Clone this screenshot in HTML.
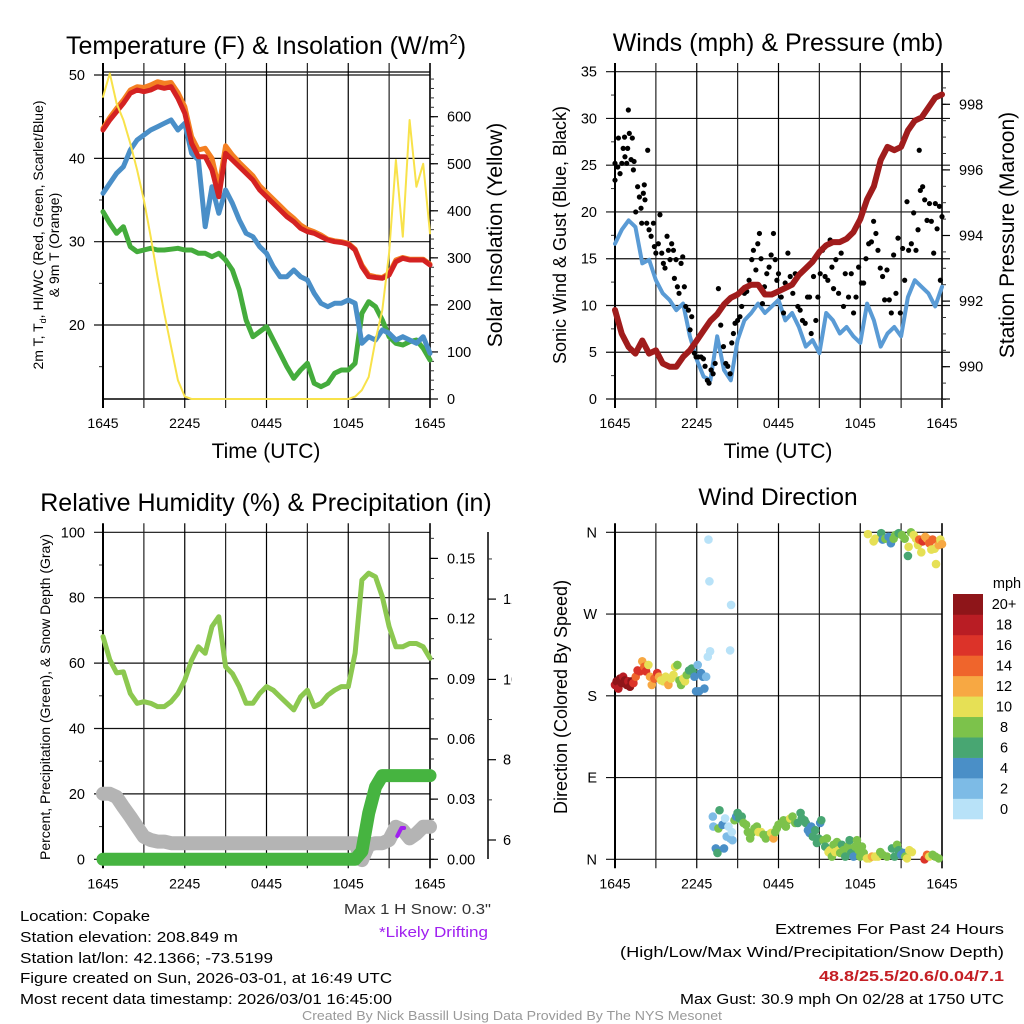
<!DOCTYPE html>
<html><head><meta charset="utf-8">
<style>
html,body{margin:0;padding:0;background:#fff;}
svg{display:block;font-family:"Liberation Sans",sans-serif;}
</style></head>
<body>
<svg id="chart" width="1024" height="1024" viewBox="0 0 1024 1024" xmlns="http://www.w3.org/2000/svg">
<defs><clipPath id="clipRight"><rect x="0" y="0" width="512" height="1024"/></clipPath></defs>
<rect x="0" y="0" width="1024" height="1024" fill="#fff"/>
<g id="layer"></g>
<!-- titles -->
<text x="266" y="54" font-size="25" text-anchor="middle">Temperature (F) &amp; Insolation (W/m<tspan font-size="15" dy="-10">2</tspan><tspan dy="10">)</tspan></text>
<text x="778" y="51" font-size="25" text-anchor="middle">Winds (mph) &amp; Pressure (mb)</text>
<text x="266" y="511" font-size="25" text-anchor="middle">Relative Humidity (%) &amp; Precipitation (in)</text>
<text x="778" y="505" font-size="24.5" text-anchor="middle">Wind Direction</text>
<!-- axis titles -->
<text x="266" y="458" font-size="21" text-anchor="middle">Time (UTC)</text>
<text x="778" y="458" font-size="21" text-anchor="middle">Time (UTC)</text>
<text transform="translate(43,235) rotate(-90)" font-size="14" text-anchor="middle">2m T, T<tspan font-size="9" dy="3">d</tspan><tspan dy="-3">, HI/WC (Red, Green, Scarlet/Blue)</tspan></text>
<text transform="translate(59,245) rotate(-90)" font-size="14" text-anchor="middle">&amp; 9m T (Orange)</text>
<text transform="translate(502,235) rotate(-90)" font-size="21" text-anchor="middle">Solar Insolation (Yellow)</text>
<text transform="translate(566,235) rotate(-90)" font-size="18" text-anchor="middle">Sonic Wind &amp; Gust (Blue, Black)</text>
<text transform="translate(1014,235) rotate(-90)" font-size="21" text-anchor="middle">Station Pressure (Maroon)</text>
<text transform="translate(50,697) rotate(-90)" font-size="14" text-anchor="middle">Percent, Precipitation (Green), &amp; Snow Depth (Gray)</text>
<text transform="translate(567,697) rotate(-90)" font-size="18" text-anchor="middle">Direction (Colored By Speed)</text>
<!-- footer -->
<g font-size="14.5">
<text x="20" y="921" textLength="130" lengthAdjust="spacingAndGlyphs">Location: Copake</text>
<text x="20" y="942" textLength="218" lengthAdjust="spacingAndGlyphs">Station elevation: 208.849 m</text>
<text x="20" y="963" textLength="253" lengthAdjust="spacingAndGlyphs">Station lat/lon: 42.1366; -73.5199</text>
<text x="20" y="983" textLength="372" lengthAdjust="spacingAndGlyphs">Figure created on Sun, 2026-03-01, at 16:49 UTC</text>
<text x="20" y="1004" textLength="372" lengthAdjust="spacingAndGlyphs">Most recent data timestamp: 2026/03/01 16:45:00</text>
<text x="344" y="914" fill="#333" textLength="147" lengthAdjust="spacingAndGlyphs">Max 1 H Snow: 0.3"</text>
<text x="379" y="937" fill="#a020f0" textLength="109" lengthAdjust="spacingAndGlyphs">*Likely Drifting</text>
<text x="775" y="934" textLength="229" lengthAdjust="spacingAndGlyphs">Extremes For Past 24 Hours</text>
<text x="620" y="957" textLength="384" lengthAdjust="spacingAndGlyphs">(High/Low/Max Wind/Precipitation/Snow Depth)</text>
<text x="819" y="981" fill="#c41e24" font-weight="bold" textLength="185" lengthAdjust="spacingAndGlyphs">48.8/25.5/20.6/0.04/7.1</text>
<text x="680" y="1004" textLength="324" lengthAdjust="spacingAndGlyphs">Max Gust: 30.9 mph On 02/28 at 1750 UTC</text>
<text x="302" y="1020" fill="#999" font-size="12.5" textLength="420" lengthAdjust="spacingAndGlyphs">Created By Nick Bassill Using Data Provided By The NYS Mesonet</text>
</g>
</svg>
<script>
// ---------- DATA ----------
const hours = [0,0.5,1,1.5,2,2.5,3,3.5,4,4.5,5,5.5,6,6.5,7,7.5,8,8.5,9,9.5,10,10.5,11,11.5,12,12.5,13,13.5,14,14.5,15,15.5,16,16.5,17,17.5,18,18.5,19,19.5,20,20.5,21,21.5,22,22.5,23,23.5,24];
const timeTickLabels = ["1645","2245","0445","1045","1645"];
const tempTicks = [20,30,40,50];
const insolTicks = [0,100,200,300,400,500,600];
const windTicks = [0,5,10,15,20,25,30,35];
const pressTicks = [990,992,994,996,998];
const rhTicks = [0,20,40,60,80,100];
const precipTicks = [0,0.03,0.06,0.09,0.12,0.15];
const precipTickLabels = ["0.00","0.03","0.06","0.09","0.12","0.15"];
const snowTicks = [6,8,10,12];
const dirTicks = [0,90,180,270,360];
const dirTickLabels = ["N","E","S","W","N"];
const speedBinLabels = ["0","2","4","6","8","10","12","14","16","18","20+"];
const speedBinColors = ["#b8e2f8","#7dbbe6","#4a8fc7","#48a672","#7cc24b","#e6e055","#f7a843","#ef652c","#dc3329","#b91d24","#8e1519"];

const tempRed = [43.4,44.6,45.6,46.6,47.8,48.2,48.0,48.2,48.6,48.4,48.6,47.2,45.4,41.8,40.2,40.2,38.6,35.4,40.6,39.8,39.0,38.2,37.4,36.2,35.4,34.6,33.8,33.0,32.4,31.6,31.2,31.0,30.6,30.2,30.0,29.9,29.7,29.0,27.0,25.8,25.7,25.6,26.0,27.6,28.0,27.8,27.8,27.8,27.2];
const temp9mOrange = [43.6,44.9,46.0,47.0,48.2,48.6,48.5,48.8,49.2,49.0,49.1,47.9,46.2,42.6,41.0,41.2,40.0,36.5,41.5,40.4,39.5,38.7,37.9,36.7,35.9,35.1,34.3,33.5,32.8,32.0,31.5,31.2,30.8,30.3,30.1,30.0,29.8,29.1,27.2,26.0,25.8,25.7,26.2,27.8,28.1,27.9,27.9,27.9,27.3];
const windChillBlue = [35.8,37.0,38.2,39.0,41.0,42.2,42.8,43.4,43.8,44.2,44.6,43.4,44.2,40.6,39.8,31.8,36.6,33.4,36.2,34.6,32.6,31.0,30.6,29.4,28.6,27.0,25.8,25.8,26.6,25.8,25.4,23.8,22.6,22.2,22.6,22.6,23.0,22.6,17.8,18.6,18.2,19.4,19.0,18.2,18.6,18.2,17.8,18.6,16.6];
const dewpointGreen = [33.6,32.2,31.0,31.8,29.4,28.8,29.0,29.2,29.0,29.0,29.1,29.2,29.0,29.0,28.6,28.6,28.2,28.6,27.8,26.6,24.2,20.6,18.6,19.2,19.8,18.2,16.6,15.0,13.6,14.6,15.4,13.0,12.6,13.0,14.2,14.6,14.6,15.4,21.4,22.8,22.2,20.6,18.6,17.8,17.6,18.0,18.2,17.2,15.8];
const insolation = [642,692,628,593,543,487,423,345,260,182,111,40,5,0,0,0,0,0,0,0,0,0,0,0,0,0,0,0,0,0,0,0,0,0,0,0,0,5,19,47,125,189,310,508,345,593,451,500,352];

const windSpeed = [16.6,18.1,19.1,18.4,14.5,14.9,12.7,11.3,10.6,9.5,10.2,6.7,4.2,2.4,2.0,6.7,3.1,2.0,6.3,8.4,9.2,10.2,9.2,9.9,10.6,8.4,9.2,7.7,5.6,6.3,4.9,9.2,8.4,7.0,7.7,6.7,6.0,10.2,8.4,5.6,7.0,7.7,6.7,10.9,12.7,12.0,11.3,9.9,12.0];
const pressure = [991.73,991.0,990.6,990.4,990.8,990.4,990.5,990.1,990.0,990.0,990.3,990.5,990.8,991.1,991.4,991.6,991.9,992.1,992.2,992.4,992.5,992.5,992.2,992.2,992.3,992.4,992.5,992.8,993.0,993.2,993.5,993.7,993.8,993.8,993.9,994.1,994.5,995.1,995.5,996.3,996.7,996.6,996.7,997.2,997.5,997.6,997.9,998.2,998.3];
const gustTimes = [0,0,0.2,0.25,0.37,0.5,0.6,0.7,0.73,0.86,0.93,0.98,1.05,1.18,1.27,1.35,1.4,1.52,1.66,1.79,1.91,1.96,2.08,2.15,2.2,2.33,2.4,2.5,2.65,2.82,2.89,3.0,3.18,3.3,3.43,3.55,3.67,3.82,3.92,4.04,4.16,4.29,4.36,4.48,4.58,4.7,4.85,4.97,5.09,5.19,5.39,5.51,5.63,5.83,5.95,6.12,6.32,6.49,6.61,6.78,6.9,7.05,7.2,7.35,7.59,7.76,7.96,8.13,8.28,8.45,8.57,8.69,8.81,9.0,9.17,9.3,9.5,9.67,9.84,10.04,10.16,10.34,10.48,10.6,10.72,10.82,10.97,11.14,11.31,11.46,11.63,11.76,11.88,12.0,12.2,12.37,12.49,12.69,12.86,13.05,13.23,13.42,13.59,13.76,13.96,14.13,14.28,14.4,14.57,14.74,14.89,15.06,15.23,15.42,15.62,15.79,15.92,16.04,16.21,16.41,16.6,16.77,16.9,17.14,17.34,17.51,17.69,17.88,18.08,18.25,18.42,18.62,18.82,18.98,19.15,19.3,19.47,19.64,19.79,19.96,20.13,20.28,20.45,20.62,20.77,20.94,21.11,21.26,21.43,21.55,21.75,21.92,22.09,22.24,22.33,22.41,22.58,22.73,22.9,23.08,23.22,23.39,23.51,23.64,23.81,23.88,24];
const gustSpeeds = [25.2,23.4,24.8,27.9,24.1,25.2,26.8,28.0,25.9,25.2,26.8,30.9,28.4,25.6,27.9,24.5,25.4,20.0,22.7,21.6,20.4,18.8,22.0,22.9,21.3,18.8,26.6,18.1,17.4,18.8,16.3,15.6,16.6,19.7,15.6,14.5,14.0,17.4,15.9,14.9,16.6,15.9,12.9,14.9,12.0,11.3,14.5,15.2,12.0,9.9,9.5,7.4,8.8,4.9,4.5,4.5,4.5,4.3,3.5,2.0,1.7,3.1,2.7,3.8,11.8,7.9,5.6,3.8,3.5,2.7,6.0,7.0,8.1,8.4,8.8,9.9,11.3,11.5,12.7,14.9,15.9,13.8,16.6,17.7,15.0,10.2,12.0,13.4,14.1,15.4,17.7,14.9,12.7,13.4,10.9,9.2,12.4,15.6,13.1,11.3,13.4,9.9,9.5,8.4,8.1,10.9,10.9,7.0,13.1,8.4,10.9,13.4,15.9,13.1,12.7,17.0,14.1,11.8,14.9,11.3,15.6,9.9,13.4,10.9,13.4,9.2,10.9,14.1,12.4,12.4,15.0,16.6,16.8,19.0,17.7,15.9,14.0,13.1,10.6,13.8,10.6,9.2,15.4,11.3,17.2,9.2,16.1,12.7,21.1,15.9,16.6,19.9,15.9,18.1,26.6,22.3,22.7,21.3,19.1,20.9,19.0,15.6,20.9,18.2,20.6,12.7,19.5];

const relHumidity = [68.1,61.0,57.0,57.3,50.7,47.7,48.2,47.7,46.7,46.7,48.2,50.7,54.8,60.9,65.0,63.0,71.2,74.2,58.9,56.8,52.8,47.7,47.7,50.7,52.8,51.7,49.7,47.7,45.7,49.7,51.7,46.7,47.7,50.2,51.7,52.8,52.8,63.0,85.4,87.5,86.4,80.3,71.2,65.0,65.0,66.0,66.0,65.0,61.5];
const precipAccum = [0,0,0,0,0,0,0,0,0,0,0,0,0,0,0,0,0,0,0,0,0,0,0,0,0,0,0,0,0,0,0,0,0,0,0,0,0,0,0.004,0.023,0.036,0.0417,0.0417,0.0417,0.0417,0.0417,0.0417,0.0417,0.0417];
const snowDepth = [7.15,7.15,7.07,6.82,6.58,6.33,6.08,6.0,5.96,5.96,5.92,5.92,5.92,5.92,5.92,5.92,5.92,5.92,5.92,5.92,5.92,5.92,5.92,5.92,5.92,5.92,5.92,5.92,5.92,5.92,5.92,5.92,5.92,5.92,5.92,5.92,5.92,5.92,5.5,5.88,5.92,5.92,6.0,6.33,6.25,6.04,6.16,6.33,6.33];
const driftTimes = [21.6,21.75,21.9,22.1];
const driftDepth = [6.1,6.2,6.3,6.3];

const dirTimes = [0,0.12,0.25,0.37,0.5,0.6,0.73,0.86,0.98,1.1,1.22,1.35,1.52,1.66,1.84,2.0,2.15,2.28,2.45,2.57,2.7,2.89,3.1,3.23,3.38,3.55,3.72,3.92,4.11,4.29,4.41,4.58,4.73,4.85,5.02,5.14,5.27,5.44,5.63,5.7,5.83,5.95,6.07,6.17,6.32,6.44,6.56,6.69,6.81,6.98,6.86,6.93,8.45,8.52,
7.18,7.22,7.4,7.52,7.67,7.59,7.89,8.0,8.08,8.2,8.33,8.45,8.62,8.57,8.77,8.89,9.0,9.13,9.3,9.43,9.62,9.75,9.92,10.04,10.24,10.41,10.53,10.72,10.9,11.07,11.27,11.46,11.63,11.76,11.88,12.0,12.2,12.37,12.54,12.69,12.86,13.03,13.23,13.42,13.62,13.71,13.91,14.0,14.16,14.28,14.4,14.52,14.7,14.82,14.94,15.06,15.14,15.31,15.43,15.55,15.67,15.79,15.92,16.04,16.16,16.29,16.41,16.53,16.65,16.77,16.9,17.09,17.22,17.34,17.51,17.63,17.76,17.88,18.0,18.12,18.25,18.49,18.66,18.86,19.1,19.3,19.47,19.64,19.96,20.33,20.52,20.7,20.82,21.01,21.18,21.31,21.43,21.6,21.79,22.72,22.9,23.07,23.31,23.51,23.76,
18.56,18.98,19.1,19.54,19.64,19.84,20.08,20.25,20.45,20.57,20.82,21.06,21.26,21.5,21.55,21.72,21.92,22.09,22.24,22.33,22.48,22.58,22.77,22.9,23.07,23.22,23.31,23.46,23.56,23.76,23.88,24.0];
const dirDegrees = [192,196,188,199,194,201,197,192,196,190,196,194,201,208,207,218,212,207,214,201,192,199,205,201,197,196,201,192,199,203,212,214,197,192,199,196,203,208,210,207,201,185,214,185,205,201,188,201,223,229,352,306,230,280,
47,36,12,7,54,34,38,12,45,25,36,23,21,30,43,47,51,45,47,40,38,30,23,29,34,36,30,30,27,23,27,29,23,30,34,38,40,43,36,43,45,47,40,40,51,45,43,40,32,29,36,25,32,18,23,40,43,21,14,23,8,10,3,16,8,19,10,7,16,10,3,14,21,7,3,14,21,10,3,14,7,1,1,3,3,3,8,5,3,12,3,16,10,5,7,3,1,10,8,0,5,3,5,3,1,
358,350,353,359,352,353,355,348,353,357,359,357,353,334,344,360,357,353,346,352,338,350,355,353,348,341,352,342,325,346,352,347];
const dirSpeeds = [18,20,18,20,20,18,20,20,18,20,20,16,14,16,16,12,14,16,10,12,12,14,16,12,10,10,10,12,10,10,10,8,8,8,10,10,8,6,6,6,4,4,2,4,4,4,4,2,0,0,0,0,0,0,
2,2,4,6,6,8,4,4,0,2,0,2,2,0,8,4,6,6,6,8,8,8,8,8,8,8,10,10,8,8,8,10,12,8,8,8,8,8,8,8,10,8,8,6,6,6,6,6,4,4,4,6,6,6,6,4,6,8,6,8,10,10,8,8,10,8,10,8,6,8,6,8,6,6,4,8,8,8,8,8,8,10,10,12,10,10,8,8,8,6,6,8,6,4,4,8,10,10,10,16,14,10,8,8,8,
10,10,10,6,4,8,4,4,8,8,6,8,8,6,10,8,10,10,10,14,10,16,12,12,14,10,14,10,10,12,10,12];

// ---------- HELPERS ----------
const NS = "http://www.w3.org/2000/svg";
const layer = document.getElementById('layer');
function mk(tag, attrs, parent) {
  const e = document.createElementNS(NS, tag);
  for (const k in attrs) e.setAttribute(k, attrs[k]);
  (parent || layer).appendChild(e);
  return e;
}
function txt(s, attrs, parent) { const e = mk('text', attrs, parent); e.textContent = s; return e; }
const PX = 327/24;
function xScale(x0) { return t => x0 + t * PX; }
function pts(xs, ys, fx, fy) { return xs.map((t, i) => fx(t).toFixed(1) + ',' + fy(ys[i]).toFixed(1)).join(' '); }

function timeFrame(x0, top, bottom, name) {
  const fx = xScale(x0);
  const g = mk('g', {});
  
  
  for (let h = 0; h <= 24; h += 3) {
    const ln = mk('line', {x1: fx(h), x2: fx(h), y1: top - 9, y2: bottom + 9, stroke: (h % 6 === 0) ? '#000' : '#222', 'stroke-width': (h === 0 ? 2 : 1.2)}, g);
    
    
  }
  for (let i = 0; i < timeTickLabels.length; i++) {
    const lb = txt(timeTickLabels[i], {x: fx(i * 6), y: bottom + 29, 'font-size': 14, 'text-anchor': 'middle'}, g);
    
    
  }
  const r = mk('line', {x1: x0 + 327, x2: x0 + 327, y1: top - 9, y2: bottom + 9, stroke: '#000', 'stroke-width': 1.5}, g);
  
  
  return fx;
}
function hGrid(x0, ys, labels, fy, name, extendRight) {
  const g = mk('g', {});
  
  
  ys.forEach((v, i) => {
    const y = fy(v);
    const ln = mk('line', {x1: x0 - 9, x2: x0 + 327 + (extendRight ? 8 : 0), y1: y, y2: y, stroke: '#111', 'stroke-width': 1.2}, g);
    
    
    const lb = txt(labels[i], {x: x0 - 18, y: y + 5, 'font-size': 14.5, 'text-anchor': 'end'}, g);
    
    
  });
}
function rightAxis(xr, vals, labels, fy, name, minorVals) {
  const g = mk('g', {});
  
  
  (minorVals || []).forEach(v => {
    const m = mk('line', {x1: xr, x2: xr + 4, y1: fy(v), y2: fy(v), stroke: '#333', 'stroke-width': 1}, g);
    
    
  });
  vals.forEach((v, i) => {
    const t = mk('line', {x1: xr, x2: xr + 8, y1: fy(v), y2: fy(v), stroke: '#000', 'stroke-width': 1.2}, g);
    
    
    const lb = txt(labels[i], {x: xr + 17, y: fy(v) + 5, 'font-size': 14.5}, g);
    
    
  });
}
function leftMinor(x0, vals, fy) {
  vals.forEach(v => {
    const m = mk('line', {x1: x0 - 4, x2: x0, y1: fy(v), y2: fy(v), stroke: '#333', 'stroke-width': 1});
    
    
  });
}
function line(xs, ys, fx, fy, color, w, name) {
  const p = mk('polyline', {points: pts(xs, ys, fx, fy), fill: 'none', stroke: color, 'stroke-width': w, 'stroke-linejoin': 'round', 'stroke-linecap': 'round'});
  
  
  return p;
}

// ---------- PANEL 1: Temperature ----------
const yT = v => 325 - (v - 20) * 8.333;
const yI = v => 399 - v * 0.4705;
hGrid(103, tempTicks, tempTicks.map(String), yT, 'temperature-y-axis', false);
leftMinor(103, [15, 25, 35, 45], yT);
const topLine = mk('line', {x1: 103, x2: 430, y1: 72, y2: 72, stroke: '#000', 'stroke-width': 1.2});


const botLine = mk('line', {x1: 103, x2: 430, y1: 399, y2: 399, stroke: '#000', 'stroke-width': 1.5});


const fx1 = timeFrame(103, 72, 399, 'temperature');
const insMinor = []; for (let v = 0; v <= 680; v += 20) insMinor.push(v);
rightAxis(430, insolTicks, insolTicks.map(String), yI, 'insolation-y-axis', insMinor);
line(hours, dewpointGreen, fx1, yT, '#44ac3c', 5, 'dewpoint-line');
line(hours, windChillBlue, fx1, yT, '#4a8fc8', 5, 'wind-chill-line');
line(hours, temp9mOrange, fx1, yT, '#f47f22', 5, 'temp-9m-line');
line(hours, tempRed, fx1, yT, '#d42222', 5, 'temp-2m-line');
line(hours, insolation, fx1, yI, '#f8e24a', 2, 'insolation-line');

// ---------- PANEL 2: Winds ----------
const yW = v => 399 - v * 9.352;
const yP = p => 366.7 - (p - 990) * 32.8;
hGrid(615, windTicks, windTicks.map(String), yW, 'wind-y-axis', true);
leftMinor(615, [2.5, 7.5, 12.5, 17.5, 22.5, 27.5, 32.5], yW);
const fx2 = timeFrame(615, 72, 399, 'wind');
const pMinor = []; for (let p = 989; p <= 998.5; p += 0.5) pMinor.push(p);
rightAxis(942, pressTicks, pressTicks.map(String), yP, 'pressure-y-axis', pMinor);
line(hours, windSpeed, fx2, yW, '#5a9bd5', 4, 'wind-speed-line');
const gustG = mk('g', {});


gustTimes.forEach((t, i) => {
  const c = mk('circle', {cx: fx2(t), cy: yW(gustSpeeds[i]), r: 2.6, fill: '#000'}, gustG);
  
  
});
line(hours, pressure, fx2, yP, '#a01c1c', 6, 'pressure-line');

// ---------- PANEL 3: Humidity ----------
const yRH = v => 859.3 - v * 3.27;
const yPr = v => 859.3 - v * 2006;
const ySn = v => 840 - (v - 6) * 40.15;
hGrid(103, rhTicks, rhTicks.map(String), yRH, 'humidity-y-axis', false);
leftMinor(103, [10, 30, 50, 70, 90], yRH);
const fx3 = timeFrame(103, 532.3, 859.3, 'humidity');
const prMinor = []; for (let v = 0; v <= 0.16; v += 0.01) prMinor.push(v);
rightAxis(430, precipTicks, precipTickLabels, yPr, 'precip-y-axis', prMinor);
const snowAxis = mk('g', {'clip-path': 'url(#clipRight)'});


const sal = mk('line', {x1: 488, x2: 488, y1: 532, y2: 859, stroke: '#000', 'stroke-width': 1.5}, snowAxis);


[7, 9, 11, 13].forEach(v => {
  const m = mk('line', {x1: 488, x2: 492, y1: ySn(v), y2: ySn(v), stroke: '#333'}, snowAxis);
  
  
});
snowTicks.forEach(v => {
  const t = mk('line', {x1: 488, x2: 496, y1: ySn(v), y2: ySn(v), stroke: '#000', 'stroke-width': 1.2}, snowAxis);
  
  
  const lb = txt(String(v), {x: 503, y: ySn(v) + 5, 'font-size': 14.5}, snowAxis);
  
  
});
line(hours, relHumidity, fx3, yRH, '#8cc850', 5, 'relative-humidity-line');
line(hours, snowDepth, fx3, ySn, '#b4b4b4', 14, 'snow-depth-line');
line(hours, precipAccum, fx3, yPr, '#46b440', 13, 'precipitation-line');
line(driftTimes, driftDepth, fx3, ySn, '#a020f0', 4, 'drifting-snow-line');

// ---------- PANEL 4: Wind direction ----------
const yD = d => 859.3 - d * 0.9083;
hGrid(615, dirTicks, dirTickLabels, yD, 'direction-y-axis', false);
const fx4 = timeFrame(615, 532.3, 859.3, 'direction');
function speedColor(s) { return speedBinColors[Math.min(10, Math.floor(s / 2))]; }
const dirG = mk('g', {});


dirTimes.forEach((t, i) => {
  const c = mk('circle', {cx: fx4(t), cy: yD(dirDegrees[i]), r: 4.3, fill: speedColor(dirSpeeds[i])}, dirG);
  
  
});
const cb = mk('g', {});


const binH = 225 / speedBinColors.length;
speedBinColors.forEach((col, i) => {
  const y = 819 - (i + 1) * binH;
  const r = mk('rect', {x: 953, y: y, width: 30, height: binH + 0.3, fill: col}, cb);
  
  
  const lb = txt(speedBinLabels[i], {x: 1004, y: y + binH / 2 + 5, 'font-size': 14.5, 'text-anchor': 'middle'}, cb);
  
  
});
const mphL = txt('mph', {x: 1007, y: 588, 'font-size': 14.5, 'text-anchor': 'middle'}, cb);


</script>
</body></html>
